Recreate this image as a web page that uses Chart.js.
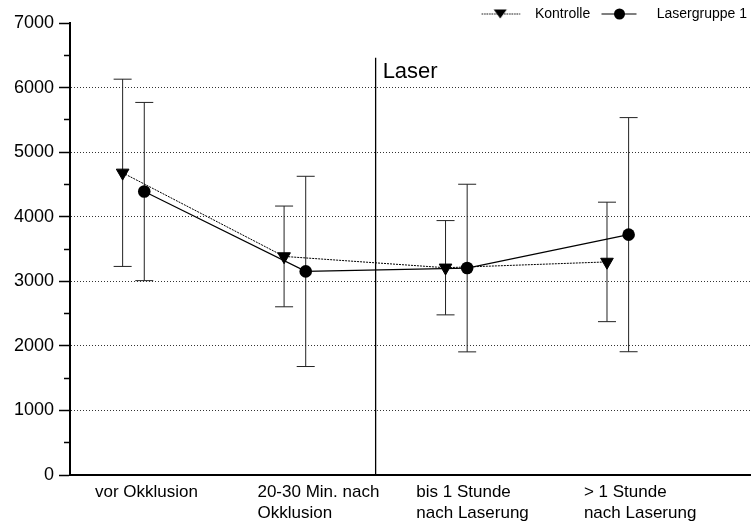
<!DOCTYPE html>
<html>
<head>
<meta charset="utf-8">
<script src="https://cdn.jsdelivr.net/npm/chart.js@4/dist/chart.umd.min.js"></script>
<style>
  html, body { margin: 0; padding: 0; background: #fff; }
  #wrap { width: 751px; height: 527px; position: relative; }
</style>
</head>
<body>
<div id="wrap"><canvas id="myChart"></canvas></div>
<script>
Chart.defaults.font.family = "'Liberation Sans', Arial, Helvetica, sans-serif";
Chart.defaults.color = "#000";

// data (mean and +/- SD)
const categories = [
  "vor Okklusion",
  ["20-30 Min. nach", "Okklusion"],
  ["bis 1 Stunde", "nach Laserung"],
  ["> 1 Stunde", "nach Laserung"],
];
const kontrolleMean = [4680, 3385, 3210, 3300];
const kontrolleSD = [1450, 780, 730, 925];
const laserMean = [4390, 3153, 3205, 3722];
const laserSD = [1380, 1473, 1298, 1813];
const yTickLabels = [0, 1000, 2000, 3000, 4000, 5000, 6000, 7000];
const laserMarkX = 2.5;
const laserMarkTop = 6460;
const laserLabel = "Laser";

const groupShift = 0.067;
const toPoints = (vals, shift) => vals.map((v, i) => ({ x: i + 1 + shift, y: v }));

function legendIcon(shape, dash, shift, left, right) {
  const c = document.createElement("canvas");
  c.width = 60;
  c.height = 16;
  const g = c.getContext("2d");
  const cx = 30 + shift, cy = 8;
  g.strokeStyle = "#000";
  g.lineWidth = 1.2;
  g.setLineDash(dash);
  g.beginPath();
  g.moveTo(cx - left, cy);
  g.lineTo(cx + right, cy);
  g.stroke();
  g.setLineDash([]);
  g.fillStyle = "#000";
  g.beginPath();
  if (shape === "triangle") {
    g.moveTo(cx - 6.5, cy - 4.5);
    g.lineTo(cx + 6.5, cy - 4.5);
    g.lineTo(cx, cy + 4.5);
    g.closePath();
  } else {
    g.arc(cx, cy, 5.5, 0, Math.PI * 2);
  }
  g.fill();
  return c;
}
const legendIcons = [
  legendIcon("triangle", [1.5, 1], 0, 18.5, 20),
  legendIcon("circle", [], -2.5, 18, 17),
];

const errorBars = {
  id: "errorBars",
  beforeDatasetsDraw(chart) {
    const { ctx, scales: { x, y } } = chart;
    const cap = 9;
    ctx.save();
    ctx.strokeStyle = "#222";
    ctx.lineWidth = 1;
    chart.data.datasets.forEach((ds) => {
      if (!ds.errors) return;
      ds.data.forEach((p, i) => {
        const px = x.getPixelForValue(p.x);
        const hi = y.getPixelForValue(p.y + ds.errors[i]);
        const lo = y.getPixelForValue(p.y - ds.errors[i]);
        ctx.beginPath();
        ctx.moveTo(px, hi);
        ctx.lineTo(px, lo);
        ctx.moveTo(px - cap, hi);
        ctx.lineTo(px + cap, hi);
        ctx.moveTo(px - cap, lo);
        ctx.lineTo(px + cap, lo);
        ctx.stroke();
      });
    });
    ctx.restore();
  },
  afterDatasetsDraw(chart) {
    const { ctx, scales: { x, y } } = chart;
    ctx.save();
    ctx.fillStyle = "#000";
    ctx.font = "22px 'Liberation Sans', Arial, sans-serif";
    ctx.textBaseline = "alphabetic";
    ctx.fillText(laserLabel, x.getPixelForValue(laserMarkX) + 7, y.getPixelForValue(laserMarkTop) + 20);
    ctx.restore();
  },
};

const ctx = document.getElementById("myChart");
new Chart(ctx, {
  type: "line",
  data: {
    datasets: [
      {
        label: "Kontrolle",
        data: toPoints(kontrolleMean, -groupShift),
        errors: kontrolleSD,
        borderColor: "#000",
        borderWidth: 1,
        borderDash: [2, 1],
        pointStyle: "triangle",
        rotation: 180,
        pointRadius: 7.3,
        pointHoverRadius: 7.3,
        pointBackgroundColor: "#000",
        pointBorderColor: "#000",
        pointBorderWidth: 1,
      },
      {
        label: "Lasergruppe 1",
        data: toPoints(laserMean, groupShift),
        errors: laserSD,
        borderColor: "#000",
        borderWidth: 1.2,
        pointStyle: "circle",
        pointRadius: 6.3,
        pointHoverRadius: 6.3,
        pointBackgroundColor: "#000",
        pointBorderColor: "#000",
        pointBorderWidth: 0,
      },
      {
        label: "laser-mark",
        data: [{ x: laserMarkX, y: 0 }, { x: laserMarkX, y: laserMarkTop }],
        borderColor: "#000",
        borderWidth: 1.3,
        pointRadius: 0,
      },
    ],
  },
  options: {
    responsive: true,
    maintainAspectRatio: false,
    animation: false,
    layout: { autoPadding: false, padding: { top: 3, left: 0, right: 0, bottom: 0 } },
    scales: {
      x: {
        type: "linear",
        bounds: "data",
        min: 0.607,
        max: 4.825,
        afterFit: (s) => {
          s.height = 52;
          s.paddingLeft = 0;
          s.paddingRight = 0;
        },
        afterBuildTicks: (s) => {
          s.ticks = [0.762, 1.768, 2.752, 3.79].map((v) => ({ value: v }));
        },
        ticks: {
          autoSkip: false,
          maxRotation: 0,
          align: "start",
          padding: -2,
          font: { size: 17, lineHeight: 1.28 },
          color: "#000",
          callback: (v, i) => categories[i],
        },
        grid: { display: false },
        border: { display: true, color: "#000", width: 2 },
      },
      y: {
        min: 0,
        max: 7000,
        afterFit: (s) => { s.width = 70; },
        ticks: {
          stepSize: 500,
          autoSkip: false,
          padding: 5,
          font: { size: 18 },
          color: "#000",
          callback: (v) => (yTickLabels.includes(v) ? String(v) : ""),
        },
        grid: {
          color: (c) => {
            const v = c.tick ? c.tick.value : 0;
            return v > 0 && v < 7000 && v % 1000 === 0 ? "#333" : "rgba(0,0,0,0)";
          },
          lineWidth: 1,
          tickLength: 11,
          tickColor: "#000",
          tickWidth: 1.5,
          tickBorderDash: (c) => (c.tick && c.tick.value % 1000 !== 0 ? [0, 5, 6, 50] : []),
        },
        border: { display: true, color: "#000", width: 2, dash: [1, 2] },
      },
    },
    plugins: {
      legend: {
        position: "top",
        align: "end",
        maxHeight: 20,
        labels: {
          usePointStyle: true,
          pointStyleWidth: 55.5,
          padding: 4,
          color: "#000",
          font: { size: 14 },
          filter: (item) => item.datasetIndex < 2,
          generateLabels: (chart) => {
            const items = Chart.defaults.plugins.legend.labels.generateLabels(chart);
            items.forEach((it) => {
              if (it.datasetIndex < 2) {
                it.pointStyle = legendIcons[it.datasetIndex];
                it.rotation = 0;
              }
            });
            return items;
          },
        },
      },
      tooltip: { enabled: false },
    },
  },
  plugins: [errorBars],
});
</script>
</body>
</html>
